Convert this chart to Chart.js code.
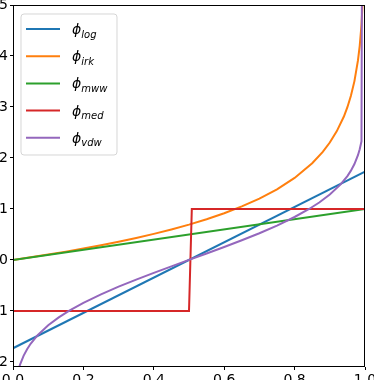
<!DOCTYPE html>
<html>
<head>
<meta charset="utf-8">
<script src="https://cdn.jsdelivr.net/npm/chart.js@4/dist/chart.umd.min.js"></script>
<style>
html,body{margin:0;padding:0;background:#fff;overflow:hidden;}
#wrap{position:relative;width:374px;height:380px;overflow:hidden;}
#c{position:absolute;left:-30px;top:0;}
</style>
</head>
<body>
<div id="wrap"><canvas id="c" width="424" height="400"></canvas></div>
<script>
// ---- data ----
const seriesNames = ['log', 'irk', 'mww', 'med', 'vdw'];
const seriesColors = ['#1f77b4', '#ff7f0e', '#2ca02c', '#d62728', '#9467bd'];

const logX = [0, 1];
const logY = [-1.732, 1.732];

const irkX = [0, 0.05, 0.1, 0.15, 0.2, 0.25, 0.3, 0.35, 0.4, 0.45, 0.5, 0.55, 0.6, 0.65, 0.7, 0.75, 0.8, 0.85, 0.88, 0.9, 0.92, 0.94, 0.95, 0.96, 0.97, 0.98, 0.985, 0.99, 0.995];
const irkY = [0, 0.051, 0.105, 0.163, 0.223, 0.288, 0.357, 0.431, 0.511, 0.598, 0.693, 0.799, 0.916, 1.050, 1.204, 1.386, 1.609, 1.897, 2.120, 2.303, 2.526, 2.813, 2.996, 3.219, 3.507, 3.912, 4.200, 4.605, 5.298];

const mwwX = [0, 1];
const mwwY = [0, 1];

const medX = [0, 0.5, 0.508, 1];
const medY = [-1, -1, 1, 1];

const vdwX = [0.005, 0.01, 0.015, 0.02, 0.03, 0.04, 0.05, 0.07, 0.1, 0.13, 0.16, 0.2, 0.25, 0.3, 0.35, 0.4, 0.45, 0.5, 0.55, 0.6, 0.65, 0.7, 0.75, 0.8, 0.84, 0.87, 0.9, 0.93, 0.95, 0.96, 0.97, 0.98, 0.985, 0.99, 0.9915];
const vdwY = [-2.576, -2.326, -2.170, -2.054, -1.881, -1.751, -1.645, -1.476, -1.282, -1.126, -0.994, -0.842, -0.674, -0.524, -0.385, -0.253, -0.126, 0, 0.126, 0.253, 0.385, 0.524, 0.674, 0.842, 0.994, 1.126, 1.282, 1.476, 1.645, 1.751, 1.881, 2.054, 2.170, 2.326, 6.0];

const xTicks = [0, 0.2, 0.4, 0.6, 0.8, 1.0];
const xTickLabels = ['0.0', '0.2', '0.4', '0.6', '0.8', '1.0'];
const yTicks = [-2, -1, 0, 1, 2, 3, 4, 5];
const yTickLabels = ['\u22122', '\u22121', '0', '1', '2', '3', '4', '5'];

// ---- build chart ----
const allX = [logX, irkX, mwwX, medX, vdwX];
const allY = [logY, irkY, mwwY, medY, vdwY];

const datasets = seriesNames.map((n, i) => ({
  label: '\u03d5' + n,
  sub: n,
  data: allX[i].map((x, j) => ({x: x, y: allY[i][j]})),
  borderColor: seriesColors[i],
  backgroundColor: seriesColors[i],
  borderWidth: 2,
  pointRadius: 0,
  tension: 0,
  fill: false,
  order: seriesNames.length - i
}));

const FONT = 'DejaVu Sans';

const boxPlugin = {
  id: 'boxAndLegend',
  afterDatasetsDraw(chart) {
    const ctx = chart.ctx;
    const a = chart.chartArea;
    ctx.save();
    // frame (all four spines)
    ctx.strokeStyle = '#000';
    ctx.lineWidth = 1;
    ctx.strokeRect(Math.round(a.left) + 0.5, Math.round(a.top) + 0.5,
                   Math.round(a.right - a.left) - 1, Math.round(a.bottom - a.top) - 1);
    // legend
    const lx = a.left + 8, ly = a.top + 9, lw = 96, lh = 141, r = 3;
    ctx.beginPath();
    ctx.moveTo(lx + r, ly);
    ctx.lineTo(lx + lw - r, ly);
    ctx.arcTo(lx + lw, ly, lx + lw, ly + r, r);
    ctx.lineTo(lx + lw, ly + lh - r);
    ctx.arcTo(lx + lw, ly + lh, lx + lw - r, ly + lh, r);
    ctx.lineTo(lx + r, ly + lh);
    ctx.arcTo(lx, ly + lh, lx, ly + lh - r, r);
    ctx.lineTo(lx, ly + r);
    ctx.arcTo(lx, ly, lx + r, ly, r);
    ctx.closePath();
    ctx.fillStyle = 'rgba(255,255,255,0.8)';
    ctx.fill();
    ctx.strokeStyle = 'rgba(204,204,204,0.8)';
    ctx.lineWidth = 1;
    ctx.stroke();
    chart.data.datasets.forEach((ds, i) => {
      const y = ly + 15 + i * 27.2;
      ctx.strokeStyle = ds.borderColor;
      ctx.lineWidth = 2;
      ctx.beginPath();
      ctx.moveTo(lx + 5, y);
      ctx.lineTo(lx + 39, y);
      ctx.stroke();
      ctx.fillStyle = '#000';
      ctx.textAlign = 'left';
      ctx.textBaseline = 'alphabetic';
      ctx.font = 'italic 14px "' + FONT + '"';
      const phi = '\u03d5';
      ctx.fillText(phi, lx + 51, y + 5);
      const w = ctx.measureText(phi).width;
      ctx.font = 'italic 10px "' + FONT + '"';
      ctx.fillText(ds.sub, lx + 51 + w, y + 8.5);
    });
    ctx.restore();
  }
};

new Chart(document.getElementById('c'), {
  type: 'line',
  data: {datasets: datasets},
  options: {
    responsive: false,
    animation: false,
    devicePixelRatio: 1,
    layout: {padding: {left: 0, right: 29, top: 5, bottom: 0}},
    plugins: {legend: {display: false}, tooltip: {enabled: false}},
    scales: {
      x: {
        type: 'linear',
        min: 0, max: 1,
        afterBuildTicks: s => { s.ticks = xTicks.map(v => ({value: v})); },
        afterFit: s => { s.height = 33; s.paddingLeft = 0; s.paddingRight = 0; },
        grid: {display: true, drawOnChartArea: false, drawTicks: true, tickLength: 3, color: '#000', lineWidth: 1},
        border: {display: false},
        ticks: {
          font: {family: FONT, size: 14}, color: '#000', padding: 2, maxRotation: 0, autoSkip: false,
          callback: (v, i) => xTickLabels[i]
        }
      },
      y: {
        type: 'linear',
        min: -2.1, max: 5,
        afterBuildTicks: s => { s.ticks = yTicks.map(v => ({value: v})); },
        afterFit: s => { s.width = 43; s.paddingTop = 0; s.paddingBottom = 0; },
        grid: {display: true, drawOnChartArea: false, drawTicks: true, tickLength: 3, color: '#000', lineWidth: 1},
        border: {display: false},
        ticks: {
          font: {family: FONT, size: 14}, color: '#000', padding: 2, autoSkip: false,
          callback: (v, i) => yTickLabels[i]
        }
      }
    }
  },
  plugins: [boxPlugin]
});
</script>
</body>
</html>
